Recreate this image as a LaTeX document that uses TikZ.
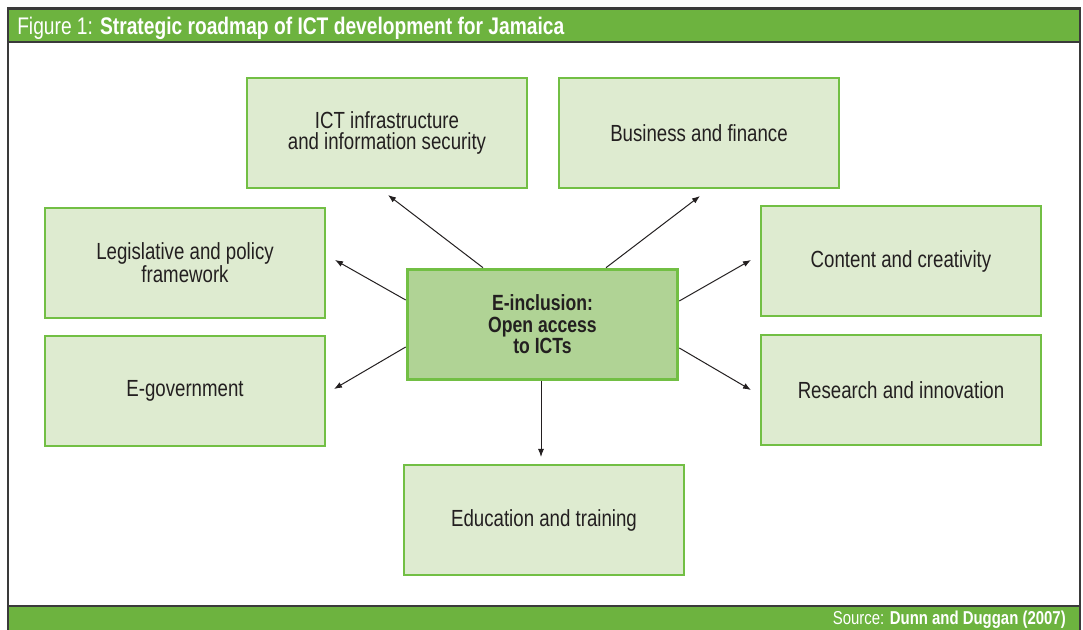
\documentclass[tikz,border=0pt]{standalone}
\usepackage{fontspec}
\setmainfont{Liberation Sans}[FakeStretch=0.8]
\usetikzlibrary{arrows.meta}
\definecolor{hdrgreen}{HTML}{6DB33F}
\definecolor{boxfill}{HTML}{DEEBD0}
\definecolor{boxline}{HTML}{72BF44}
\definecolor{ctrfill}{HTML}{B0D395}
\definecolor{txt}{HTML}{231F20}
\definecolor{frame}{HTML}{3A3A3A}
\tikzset{
  topic/.style={draw=boxline, line width=2.2pt, fill=boxfill, minimum width=210pt, minimum height=82.5pt, inner sep=0pt, align=center, text=txt, font=\fontsize{17.5}{16}\selectfont},
  centre/.style={draw=boxline, line width=2.2pt, fill=ctrfill, minimum width=203pt, minimum height=83pt, inner sep=0pt, align=center, text=txt, font=\bfseries\fontsize{16.5}{16.2}\selectfont},
  link/.style={draw=txt, line width=0.75pt, -{Latex[length=6pt,width=4.5pt]}}
}
\begin{document}
\begin{tikzpicture}[x=0.75pt,y=-0.75pt]
\useasboundingbox (0,0) rectangle (1083,630);
% outer frame and bands
\fill[white] (8,9) rectangle (1080,630);
\fill[hdrgreen] (8,9) rectangle (1080,42);
\fill[hdrgreen] (8,606) rectangle (1080,630);
\draw[frame, line width=1.6pt] (8,632) -- (8,8.5) -- (1080,8.5) -- (1080,632);
\draw[frame, line width=0.8pt] (8,42) -- (1080,42);
\draw[frame, line width=0.8pt] (8,606) -- (1080,606);
\node[anchor=west, text=white, inner sep=0pt, font=\fontsize{18}{20}\selectfont] (title) at (17,28.5) {Figure 1: \textbf{Strategic roadmap of ICT development for Jamaica}};
\node[anchor=east, text=white, inner sep=0pt, font=\fontsize{14}{15}\selectfont] (source) at (1066,620) {Source: \textbf{Dunn and Duggan (2007)}};
% topic boxes
\node[topic] (ict) at (387,133) {ICT infrastructure\\and information security};
\node[topic] (bus) at (699,133) {Business and finance};
\node[topic] (leg) at (185,263) {Legislative and policy\\framework};
\node[topic] (con) at (901,261) {Content and creativity};
\node[topic] (egov) at (185,391) {E-government};
\node[topic] (res) at (901,390) {Research and innovation};
\node[topic] (edu) at (544,520) {Education and training};
% centre
\node[centre] (ctr) at (542.5,324.5) {E-inclusion:\\Open access\\to ICTs};
% connectors
\coordinate (aict) at (388,195);
\coordinate (abus) at (700,196);
\coordinate (aleg) at (335,260);
\coordinate (aegov) at (334,389);
\coordinate (acon) at (751,260);
\coordinate (ares) at (751,390);
\coordinate (aedu) at (541,457);
\draw[link] (ctr.north -| 483,0) -- (aict);
\draw[link] (ctr.north -| 606,0) -- (abus);
\draw[link] (ctr.west |- 0,300) -- (aleg);
\draw[link] (ctr.west |- 0,347) -- (aegov);
\draw[link] (ctr.east |- 0,301) -- (acon);
\draw[link] (ctr.east |- 0,348) -- (ares);
\draw[link] (ctr.south -| 541,0) -- (aedu);
\end{tikzpicture}
\end{document}
